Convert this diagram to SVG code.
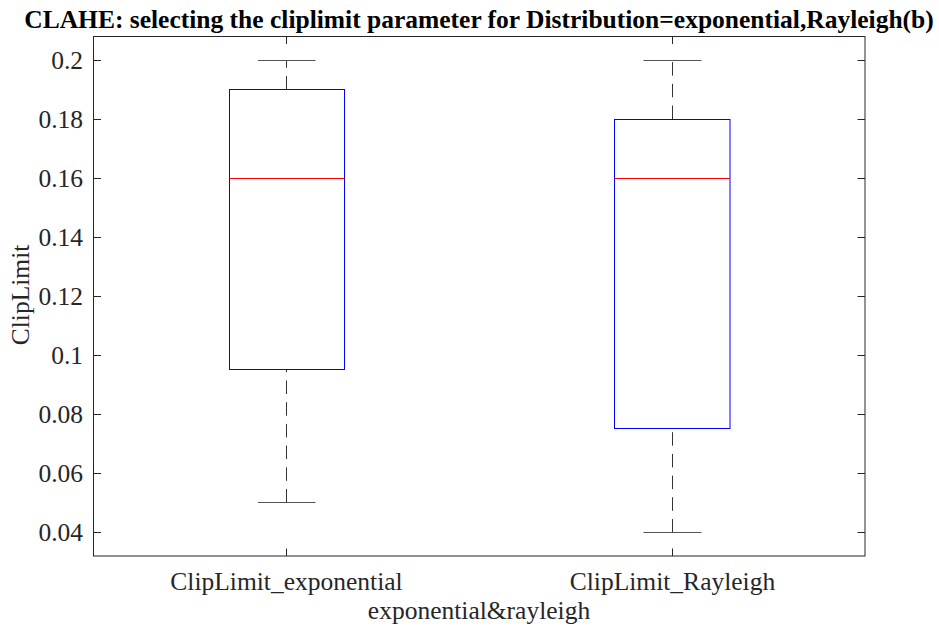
<svg xmlns="http://www.w3.org/2000/svg" width="939" height="629" viewBox="0 0 939 629">
<style>
text{font-family:"Liberation Serif","Times New Roman",serif;font-size:25.5px;fill:#262626}
.title{font-weight:bold;fill:#000}
.ax{fill:none;stroke:#262626;stroke-width:1}
.box{fill:none;stroke:#0000ff;stroke-width:1}
.med{stroke:#ff0000;stroke-width:1}
.wh{stroke:#333;stroke-width:1;stroke-dasharray:13.5 8.2;fill:none}
.cap{stroke:#555;stroke-width:1}
</style>
<rect width="939" height="629" fill="#fff"/>
<text class="title" x="479" y="28" text-anchor="middle">CLAHE: selecting the cliplimit parameter for Distribution=exponential,Rayleigh(b)</text>
<g id="axes">
<rect class="ax" x="93.5" y="36.5" width="771.5" height="519.5"/>
<path class="ax" d="M93.5 60.5h7.5M93.5 119.5h7.5M93.5 178.5h7.5M93.5 237.5h7.5M93.5 296.5h7.5M93.5 355.5h7.5M93.5 414.5h7.5M93.5 473.5h7.5M93.5 532.5h7.5M865 60.5h-7.5M865 119.5h-7.5M865 178.5h-7.5M865 237.5h-7.5M865 296.5h-7.5M865 355.5h-7.5M865 414.5h-7.5M865 473.5h-7.5M865 532.5h-7.5M286.5 36.5v7.5M672.5 36.5v7.5M286.5 556v-7.5M672.5 556v-7.5"/>
<g text-anchor="end">
<text x="83" y="69">0.2</text>
<text x="83" y="128">0.18</text>
<text x="83" y="187">0.16</text>
<text x="83" y="246">0.14</text>
<text x="83" y="305">0.12</text>
<text x="83" y="364">0.1</text>
<text x="83" y="423">0.08</text>
<text x="83" y="482">0.06</text>
<text x="83" y="541">0.04</text>
</g>
<text x="286.5" y="590" text-anchor="middle">ClipLimit_exponential</text>
<text x="672.5" y="590" text-anchor="middle">ClipLimit_Rayleigh</text>
<text x="479" y="619" text-anchor="middle">exponential&amp;rayleigh</text>
<text transform="translate(29 295) rotate(-90)" text-anchor="middle">ClipLimit</text>
</g>
<g id="connectors">
<path class="wh" d="M286.5 89.5V60.5"/>
<path class="wh" d="M286.5 502.5V369.5"/>
<path class="wh" d="M672.5 119V60.5"/>
<path class="wh" d="M672.5 532.5V428.5"/>
</g>
<g id="box-exponential">
<rect class="box" x="229.5" y="89.5" width="115" height="280"/>
<line class="med" x1="229.5" y1="178.5" x2="344.5" y2="178.5"/>
<line class="cap" x1="258" y1="60.5" x2="315.5" y2="60.5"/>
<line class="cap" x1="258" y1="502.5" x2="315.5" y2="502.5"/>
</g>
<g id="box-rayleigh">
<rect class="box" x="614.5" y="119.5" width="115.5" height="309"/>
<line class="med" x1="614.5" y1="178.5" x2="730" y2="178.5"/>
<line class="cap" x1="643.5" y1="60.5" x2="701.5" y2="60.5"/>
<line class="cap" x1="643.5" y1="532.5" x2="701.5" y2="532.5"/>
</g>
</svg>
